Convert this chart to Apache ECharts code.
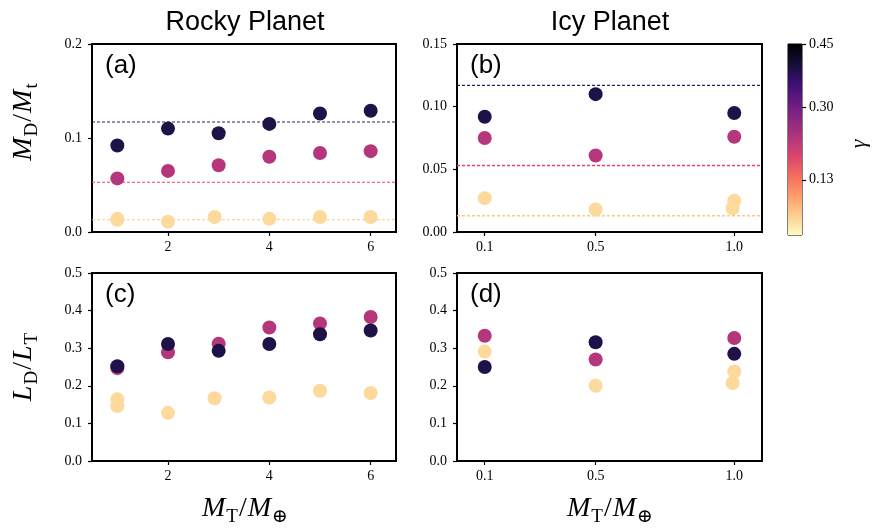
<!DOCTYPE html>
<html><head><meta charset="utf-8">
<script src="https://cdn.jsdelivr.net/npm/echarts@6/dist/echarts.min.js"></script>
<style>html,body{margin:0;padding:0;background:#fff}#c{width:874px;height:528px}</style>
</head><body><div id="c"></div>
<script>
// ---- data ----
const rockyMass = [1, 2, 3, 4, 5, 6];
const rockyMassLow = [1, 1, 2, 2.92, 4, 5, 6];
const icyMass = [0.1, 0.5, 1.0];
const icyMassLow = [0.1, 0.5, 1.0, 0.994];

const navyA = [0.092, 0.110, 0.105, 0.115, 0.126, 0.129];
const pinkA = [0.057, 0.065, 0.071, 0.080, 0.084, 0.086];
const yellowA = [0.013, 0.014, 0.011, 0.016, 0.014, 0.016, 0.016];

const navyB = [0.092, 0.110, 0.095];
const pinkB = [0.075, 0.061, 0.076];
const yellowB = [0.027, 0.018, 0.025, 0.019];

const navyC = [0.252, 0.311, 0.293, 0.311, 0.337, 0.347];
const pinkC = [0.247, 0.289, 0.312, 0.355, 0.366, 0.383];
const yellowC = [0.164, 0.146, 0.128, 0.167, 0.169, 0.187, 0.181];

const navyD = [0.250, 0.316, 0.285];
const pinkD = [0.333, 0.270, 0.327];
const yellowD = [0.291, 0.200, 0.238, 0.207];

const refLines = { navy: 0.117, pink: 0.053, yellow: 0.013 };

const rockyRange = [0.5, 6.5];
const icyRange = [0, 1.1];
const rockyTicks = [2, 4, 6];
const icyTicks = [0.1, 0.5, 1.0];
const cbarTicks = [0.13, 0.30, 0.45];
const cbarMax = [0.45];

const titles = ['Rocky Planet', 'Icy Planet'];
const panelLabels = ['(a)', '(b)', '(c)', '(d)'];

// ---- style ----
const C = { navy: '#1e1248', pink: '#b5367a', yellow: '#fdd99b' };
const LC = { navy: '#2e2266', pink: '#e8436a', yellow: '#fcc982' };
const SERIF = "'Liberation Serif','DejaVu Serif',serif";
const SANS = "'Liberation Sans',Arial,sans-serif";

const grids = [
  { left: 92, top: 44, width: 304, height: 188 },
  { left: 457, top: 44, width: 305, height: 188 },
  { left: 92, top: 273, width: 304, height: 188 },
  { left: 457, top: 273, width: 305, height: 188 },
  { left: 788, top: 44, width: 14, height: 191 }
].map((g, i) => Object.assign(g, { show: true, borderColor: '#000', borderWidth: i === 4 ? 1 : 2, backgroundColor: 'transparent', containLabel: false }));

function xAx(gi, range, ticks, dec) {
  return {
    type: 'value', gridIndex: gi, min: range[0], max: range[1],
    axisLine: { show: true, lineStyle: { color: '#000', width: 2 } },
    axisTick: { show: true, inside: false, length: 4, lineStyle: { color: '#000', width: 1.2 }, customValues: ticks },
    axisLabel: { show: true, margin: 8, color: '#000', fontFamily: SERIF, fontSize: 14, customValues: ticks, formatter: v => v.toFixed(dec) },
    splitLine: { show: false }
  };
}
function yAx(gi, max, interval, dec) {
  return {
    type: 'value', gridIndex: gi, min: 0, max, interval,
    axisLine: { show: true, lineStyle: { color: '#000', width: 2 } },
    axisTick: { show: true, inside: false, length: 4, lineStyle: { color: '#000', width: 1.2 } },
    axisLabel: { show: true, margin: 10, color: '#000', fontFamily: SERIF, fontSize: 14, formatter: v => v.toFixed(dec) },
    splitLine: { show: false }
  };
}

const xAxis = [
  xAx(0, rockyRange, rockyTicks, 0),
  xAx(1, icyRange, icyTicks, 1),
  xAx(2, rockyRange, rockyTicks, 0),
  xAx(3, icyRange, icyTicks, 1),
  { type: 'category', gridIndex: 4, data: ['γ'], show: false }
];
const yAxis = [
  yAx(0, 0.2, 0.1, 1),
  yAx(1, 0.15, 0.05, 2),
  yAx(2, 0.5, 0.1, 1),
  yAx(3, 0.5, 0.1, 1),
  {
    type: 'value', gridIndex: 4, min: 0, max: 0.45, position: 'right',
    axisLine: { show: false },
    axisTick: { show: true, inside: false, length: 4, lineStyle: { color: '#000', width: 1.2 }, customValues: cbarTicks },
    axisLabel: { show: true, margin: 7, color: '#000', fontFamily: SERIF, fontSize: 14, customValues: cbarTicks, formatter: v => v.toFixed(2) },
    splitLine: { show: false }
  }
];

function zip(xs, ys) { return xs.map((x, i) => [x, ys[i]]); }
function sc(gi, key, xs, ys) {
  return {
    type: 'scatter', xAxisIndex: gi, yAxisIndex: gi, data: zip(xs, ys),
    symbolSize: 14, itemStyle: { color: C[key], opacity: 1 }, silent: true, z: 3
  };
}
function ref(gi, key, range, w) {
  const v = refLines[key];
  return {
    type: 'line', xAxisIndex: gi, yAxisIndex: gi, data: [[range[0], v], [range[1], v]],
    symbol: 'none', silent: true, z: 2,
    lineStyle: { color: LC[key], type: [3, 2], width: w }
  };
}

const series = [
  ref(0, 'navy', rockyRange, 1.1), ref(0, 'pink', rockyRange, 1.1), ref(0, 'yellow', rockyRange, 1.1),
  ref(1, 'navy', icyRange, 1.4), ref(1, 'pink', icyRange, 1.4), ref(1, 'yellow', icyRange, 1.4),
  sc(0, 'yellow', rockyMassLow, yellowA), sc(0, 'pink', rockyMass, pinkA), sc(0, 'navy', rockyMass, navyA),
  sc(1, 'yellow', icyMassLow, yellowB), sc(1, 'pink', icyMass, pinkB), sc(1, 'navy', icyMass, navyB),
  sc(2, 'yellow', rockyMassLow, yellowC), sc(2, 'pink', rockyMass, pinkC), sc(2, 'navy', rockyMass, navyC),
  sc(3, 'yellow', icyMassLow, yellowD), sc(3, 'pink', icyMass, pinkD), sc(3, 'navy', icyMass, navyD),
  {
    type: 'bar', xAxisIndex: 4, yAxisIndex: 4, data: cbarMax, barWidth: '100%', silent: true,
    itemStyle: {
      color: {
        type: 'linear', x: 0, y: 0, x2: 0, y2: 1,
        colorStops: [
          { offset: 0, color: '#000004' }, { offset: 0.1, color: '#140e36' }, { offset: 0.2, color: '#3b0f70' },
          { offset: 0.3, color: '#641a80' }, { offset: 0.4, color: '#8c2981' }, { offset: 0.5, color: '#b73779' },
          { offset: 0.6, color: '#de4968' }, { offset: 0.7, color: '#f7705c' }, { offset: 0.8, color: '#fe9f6d' },
          { offset: 0.9, color: '#fecf92' }, { offset: 1, color: '#fcfdbf' }
        ]
      }
    }
  }
];

const mathRich = {
  m: { fontFamily: SERIF, fontStyle: 'italic', fontSize: 28, color: '#000' },
  r: { fontFamily: SERIF, fontSize: 28, color: '#000', padding: [0, 1, 0, 1] },
  s: { fontFamily: SERIF, fontSize: 19, color: '#000', padding: [17, 0, 0, 1] }
};

const graphic = [
  { type: 'text', x: 245, y: 23, style: { text: titles[0], font: '27px ' + SANS, fill: '#000', align: 'center', verticalAlign: 'middle' } },
  { type: 'text', x: 610, y: 23, style: { text: titles[1], font: '27px ' + SANS, fill: '#000', align: 'center', verticalAlign: 'middle' } },
  { type: 'text', x: 105, y: 53, style: { text: panelLabels[0], font: '26px ' + SANS, fill: '#000' } },
  { type: 'text', x: 470, y: 53, style: { text: panelLabels[1], font: '26px ' + SANS, fill: '#000' } },
  { type: 'text', x: 105, y: 282, style: { text: panelLabels[2], font: '26px ' + SANS, fill: '#000' } },
  { type: 'text', x: 470, y: 282, style: { text: panelLabels[3], font: '26px ' + SANS, fill: '#000' } },
  { type: 'text', x: 24, y: 122, rotation: Math.PI / 2, style: { text: '{m|M}{s|D}{r|/}{m|M}{s|t}', rich: mathRich, align: 'center', verticalAlign: 'middle' } },
  { type: 'text', x: 24, y: 367, rotation: Math.PI / 2, style: { text: '{m|L}{s|D}{r|/}{m|L}{s|T}', rich: mathRich, align: 'center', verticalAlign: 'middle' } },
  { type: 'text', x: 245, y: 509, style: { text: '{m|M}{s|T}{r|/}{m|M}{s|⊕}', rich: mathRich, align: 'center', verticalAlign: 'middle' } },
  { type: 'text', x: 610, y: 509, style: { text: '{m|M}{s|T}{r|/}{m|M}{s|⊕}', rich: mathRich, align: 'center', verticalAlign: 'middle' } },
  { type: 'text', x: 859, y: 144, rotation: Math.PI / 2, style: { text: 'γ', font: 'italic 22px ' + SERIF, fill: '#000', align: 'center', verticalAlign: 'middle' } }
];

const chart = echarts.init(document.getElementById('c'), null, { renderer: 'canvas' });
chart.setOption({ animation: false, backgroundColor: '#fff', grid: grids, xAxis, yAxis, series, graphic });
</script>
</body></html>
